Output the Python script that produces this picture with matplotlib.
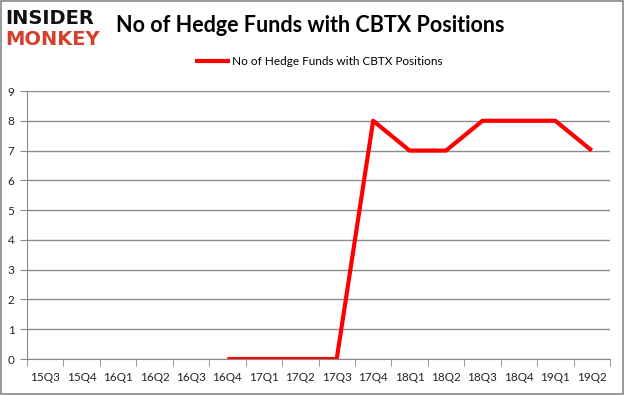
import matplotlib
matplotlib.use("Agg")
import matplotlib.pyplot as plt
import numpy as np

quarters = ["15Q3", "15Q4", "16Q1", "16Q2", "16Q3", "16Q4", "17Q1", "17Q2",
            "17Q3", "17Q4", "18Q1", "18Q2", "18Q3", "18Q4", "19Q1", "19Q2"]
series_name = "No of Hedge Funds with CBTX Positions"
# values start at 16Q4
start_index = 5
funds = [0, 0, 0, 0, 8, 7, 7, 8, 8, 8, 7]
title = "No of Hedge Funds with CBTX Positions"

plt.rcParams['font.family'] = ['Lato', 'DejaVu Sans']

fig = plt.figure(figsize=(6.25, 3.95), dpi=100)
fig.patch.set_facecolor("white")
# outer border
fig.add_artist(plt.Rectangle((0.002, 0.003), 0.995, 0.994, transform=fig.transFigure,
                             fill=False, edgecolor="#898989", linewidth=1.2))

ax = fig.add_axes([0.0432, 0.0911, 0.9328, 0.6785])
x = np.arange(start_index, start_index + len(funds))
ax.plot(x, funds, color="#ff0000", linewidth=3, label=series_name, solid_capstyle="butt")

ax.set_xlim(-0.5, len(quarters) - 0.5)
ax.set_ylim(0, 9)
ax.set_yticks(range(0, 10))
ax.set_xticks(range(len(quarters)))
ax.set_xticklabels(quarters)
ax.set_xticks(np.arange(-0.5, len(quarters), 1.0), minor=True)
ax.tick_params(axis="x", which="major", length=0, pad=9, labelsize=8.5, colors="#222222")
ax.tick_params(axis="x", which="minor", length=5, color="#888888")
ax.tick_params(axis="y", length=5, color="#888888", labelsize=8.5, colors="#222222", pad=4)
ax.grid(axis="y", color="#8c8c8c", linewidth=1)
ax.set_axisbelow(True)
for s in ["top", "right"]:
    ax.spines[s].set_visible(False)
for s in ["left", "bottom"]:
    ax.spines[s].set_color("#888888")

ax.legend(loc="lower center", bbox_to_anchor=(0.5, 1.05), frameon=False, fontsize=8.5,
          handlelength=3.0, handletextpad=0.15)

fig.text(0.186, 0.935, title, fontsize=15.5, fontweight="bold", va="center", ha="left")
fig.text(0.008, 0.954, "INSIDER", fontsize=14, fontweight="heavy", color="#111111",
         va="center", family=["DejaVu Sans"])
fig.text(0.008, 0.899, "MONKEY", fontsize=14, fontweight="heavy", color="#d3402b",
         va="center", family=["DejaVu Sans"])

fig.savefig("out.png", dpi=100)
